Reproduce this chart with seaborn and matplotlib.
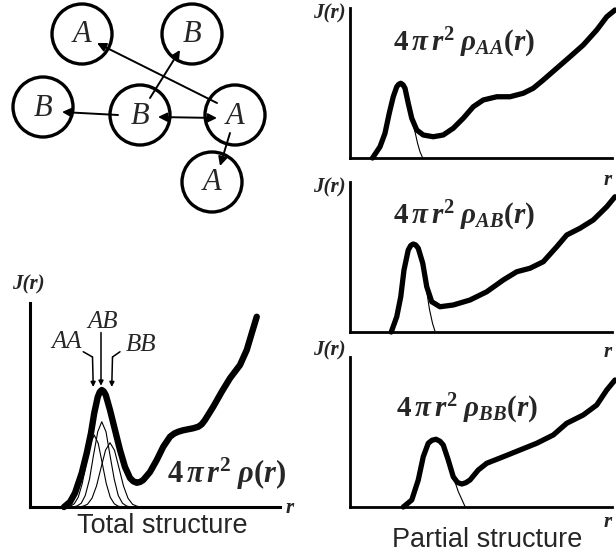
import matplotlib
matplotlib.use("Agg")
import matplotlib.pyplot as plt
from matplotlib.patches import Circle
import seaborn as sns

# ---------------- total structure: J(r) and its three partial peaks ----------------
total_r = [1.36, 1.60, 1.80, 2.07, 2.27, 2.44, 2.57, 2.71, 2.79, 2.87, 2.95, 3.03, 3.20,
           3.40, 3.60, 3.80, 4.00, 4.13, 4.27, 4.40, 4.53, 4.80, 5.07, 5.33, 5.60, 5.77,
           5.93, 6.13, 6.33, 6.53, 6.73, 6.87, 7.00, 7.33, 7.67, 8.00, 8.40, 8.67, 8.87, 9.07]
total_J = [0.00, 0.20, 0.56, 1.36, 2.16, 2.96, 3.76, 4.40, 4.60, 4.68, 4.62, 4.48, 3.88,
           3.08, 2.28, 1.60, 1.16, 1.03, 0.97, 1.00, 1.08, 1.40, 1.88, 2.41, 2.81, 2.94,
           3.01, 3.07, 3.11, 3.15, 3.21, 3.31, 3.48, 4.01, 4.61, 5.15, 5.68, 6.28, 6.95, 7.61]

aa_r = [1.45, 1.61, 1.77, 1.93, 2.09, 2.25, 2.41, 2.57, 2.73, 2.89, 3.05, 3.21, 3.37, 3.53, 3.69]
aa_J = [0.00, 0.03, 0.13, 0.39, 0.94, 1.75, 2.54, 2.88, 2.54, 1.75, 0.94, 0.39, 0.13, 0.03, 0.00]
ab_r = [1.72, 1.88, 2.05, 2.21, 2.38, 2.54, 2.71, 2.87, 3.04, 3.20, 3.37, 3.53, 3.70, 3.86, 4.03]
ab_J = [0.00, 0.04, 0.15, 0.46, 1.11, 2.07, 3.01, 3.41, 3.01, 2.07, 1.11, 0.46, 0.15, 0.04, 0.00]
bb_r = [1.94, 2.12, 2.30, 2.48, 2.66, 2.84, 3.02, 3.20, 3.38, 3.56, 3.74, 3.92, 4.10, 4.28, 4.46]
bb_J = [0.00, 0.03, 0.11, 0.35, 0.84, 1.56, 2.27, 2.57, 2.27, 1.56, 0.84, 0.35, 0.11, 0.03, 0.00]

# ---------------- partial structures ----------------
paa_r = [0.90, 1.20, 1.40, 1.57, 1.73, 1.87, 1.95, 2.03, 2.12, 2.20, 2.33, 2.47, 2.67, 2.93,
         3.33, 3.73, 4.13, 4.53, 4.93, 5.33, 5.87, 6.40, 6.93, 7.33, 7.73, 8.27, 8.80, 9.33,
         9.87, 10.27, 10.60]
paa_J = [0.00, 0.45, 0.99, 1.79, 2.45, 2.85, 2.95, 2.99, 2.93, 2.79, 2.19, 1.59, 1.12, 0.92,
         0.85, 0.92, 1.19, 1.59, 2.05, 2.32, 2.45, 2.45, 2.59, 2.79, 3.12, 3.59, 4.05, 4.52,
         5.12, 5.65, 5.92]
paa_peak_r = [0.90, 1.20, 1.40, 1.57, 1.73, 1.87, 2.03, 2.20, 2.33, 2.47, 2.60, 2.70, 2.80, 2.90]
paa_peak_J = [0.00, 0.45, 0.99, 1.79, 2.45, 2.85, 2.99, 2.79, 2.19, 1.59, 1.05, 0.60, 0.25, 0.02]

pab_r = [1.65, 1.87, 2.03, 2.16, 2.33, 2.43, 2.53, 2.63, 2.73, 2.91, 3.07, 3.27, 3.60, 4.13,
         4.80, 5.47, 6.13, 6.67, 7.20, 7.73, 8.27, 8.67, 9.20, 9.73, 10.27, 10.60]
pab_J = [0.00, 0.61, 1.41, 2.48, 3.28, 3.46, 3.52, 3.48, 3.35, 2.75, 1.81, 1.21, 1.01, 1.08,
         1.28, 1.61, 2.08, 2.41, 2.55, 2.81, 3.41, 3.88, 4.15, 4.48, 5.01, 5.41]
pab_peak_r = [1.65, 1.87, 2.03, 2.16, 2.33, 2.53, 2.73, 2.91, 3.05, 3.18, 3.30, 3.40]
pab_peak_J = [0.00, 0.61, 1.41, 2.48, 3.28, 3.52, 3.35, 2.75, 1.75, 0.90, 0.35, 0.03]

pbb_r = [2.13, 2.47, 2.73, 2.93, 3.13, 3.28, 3.44, 3.60, 3.73, 3.93, 4.13, 4.30, 4.47, 4.63,
         4.80, 5.13, 5.47, 6.13, 6.80, 7.47, 8.13, 8.67, 9.33, 9.87, 10.27, 10.60]
pbb_J = [0.00, 0.28, 1.08, 2.01, 2.55, 2.67, 2.71, 2.63, 2.48, 1.88, 1.21, 0.98, 0.92, 0.97,
         1.08, 1.48, 1.75, 2.01, 2.28, 2.55, 2.88, 3.35, 3.68, 4.08, 4.68, 5.08]
pbb_peak_r = [2.13, 2.47, 2.73, 2.93, 3.13, 3.44, 3.73, 3.93, 4.13, 4.33, 4.60]
pbb_peak_J = [0.00, 0.28, 1.08, 2.01, 2.55, 2.71, 2.48, 1.88, 1.21, 0.62, 0.02]

partial_labels = [r"$4\,\pi\, r^2\;\rho_{AA}(r)$",
                  r"$4\,\pi\, r^2\;\rho_{AB}(r)$",
                  r"$4\,\pi\, r^2\;\rho_{BB}(r)$"]

# ---------------- atom cluster sketch ----------------
node_labels = ["A", "B", "B", "B", "A", "A"]
node_x = [82, 192, 43, 140, 235, 212]
node_y = [34, 34, 107, 115, 115, 182]
bond_tail = [(217, 103), (150, 98), (118, 115), (158, 117), (230, 133)]
bond_head = [(97, 43), (180, 50), (62, 112), (217, 118), (220, 166)]
bond_style = ["-|>", "-|>", "-|>", "<|-|>", "-|>"]

sns.set_style("white")
plt.rcParams["mathtext.fontset"] = "custom"
plt.rcParams["mathtext.rm"] = "Liberation Serif:bold"
plt.rcParams["mathtext.it"] = "Liberation Serif:italic:bold"
plt.rcParams["mathtext.bf"] = "Liberation Serif:bold"

W, H = 616, 557
fig = plt.figure(figsize=(W / 100, H / 100), dpi=100)


def px_axes(x0, y0, x1, y1):
    """Axes whose frame spans the pixel box (x0, y0)-(x1, y1), y downward."""
    return fig.add_axes([x0 / W, 1 - y1 / H, (x1 - x0) / W, (y1 - y0) / H])


def style_axes(ax, lw):
    for s in ("top", "right"):
        ax.spines[s].set_visible(False)
    for s in ("left", "bottom"):
        ax.spines[s].set_linewidth(lw)
        ax.spines[s].set_color("black")
    ax.set_xticks([])
    ax.set_yticks([])
    ax.set_xlabel("")
    ax.set_ylabel("")
    ax.patch.set_alpha(0)


def curve(ax, r, J, lw):
    sns.lineplot(x=r, y=J, ax=ax, color="black", lw=lw, sort=False, estimator=None,
                 clip_on=False, solid_joinstyle="round", solid_capstyle="round")


# total structure panel
axT = px_axes(30, 303, 280, 507)
for r, J in ((aa_r, aa_J), (ab_r, ab_J), (bb_r, bb_J)):
    curve(axT, r, J, 0.8)
curve(axT, total_r, total_J, 4.6)
axT.set_xlim(0, 10)
axT.set_ylim(0, 8.16)
style_axes(axT, 2.2)

# labels and arrows for the three first-neighbour peaks
serif_it = dict(family="Liberation Serif", style="italic", fontsize=18)
arrow_kw = dict(arrowstyle="-|>", mutation_scale=7, lw=1.1, color="black",
                shrinkA=0, shrinkB=0)
axT.text(1.47, 6.62, "AA", ha="center", va="center", **serif_it)
axT.text(2.90, 7.40, "AB", ha="center", va="center", **serif_it)
axT.text(4.44, 6.48, "BB", ha="center", va="center", **serif_it)
axT.plot([2.13, 2.50], [6.21, 6.0], color="black", lw=1.1, clip_on=False)
axT.plot([3.60, 3.30], [6.21, 6.0], color="black", lw=1.1, clip_on=False)
axT.annotate("", xy=(2.53, 4.80), xytext=(2.50, 6.0), arrowprops=arrow_kw,
             annotation_clip=False)
axT.annotate("", xy=(2.84, 4.85), xytext=(2.84, 6.98), arrowprops=arrow_kw,
             annotation_clip=False)
axT.annotate("", xy=(3.27, 4.80), xytext=(3.30, 6.0), arrowprops=arrow_kw,
             annotation_clip=False)

# partial structure panels
panel_boxes = [(350, 8, 612, 158), (350, 182, 612, 332), (350, 357, 612, 507)]
partial_data = [(paa_r, paa_J, paa_peak_r, paa_peak_J),
                (pab_r, pab_J, pab_peak_r, pab_peak_J),
                (pbb_r, pbb_J, pbb_peak_r, pbb_peak_J)]
for box, (r, J, pr, pJ) in zip(panel_boxes, partial_data):
    ax = px_axes(*box)
    curve(ax, pr, pJ, 0.8)
    curve(ax, r, J, 3.8)
    ax.set_xlim(0, 10.48)
    ax.set_ylim(0, 6.0)
    style_axes(ax, 2.0)

# overlay in pixel units for the sketch and free text
ov = fig.add_axes([0, 0, 1, 1])
ov.set_xlim(0, W)
ov.set_ylim(H, 0)
ov.axis("off")

for lab, x, y in zip(node_labels, node_x, node_y):
    ov.add_patch(Circle((x, y), 30, fill=False, lw=2.4, ec="black"))
    ov.text(x, y + 1, lab, ha="center", va="center", family="Liberation Serif",
            style="italic", fontsize=22)
for t, h, st in zip(bond_tail, bond_head, bond_style):
    ov.annotate("", xy=h, xytext=t,
                arrowprops=dict(arrowstyle=st, mutation_scale=13, lw=1.4,
                                color="black", shrinkA=0, shrinkB=0))

jr_kw = dict(family="Liberation Serif", style="italic", weight="bold", fontsize=15,
             ha="center", va="center")
ov.text(28, 284, "J(r)", **jr_kw)
ov.text(329, 13, "J(r)", **jr_kw)
ov.text(329, 187, "J(r)", **jr_kw)
ov.text(329, 350, "J(r)", **jr_kw)

r_kw = dict(family="Liberation Serif", style="italic", weight="bold", fontsize=15,
            va="center")
ov.text(286, 508, "r", ha="left", **r_kw)
for y in (180, 352, 522):
    ov.text(604, y, "r", ha="left", **r_kw)

ov.text(227, 474, r"$4\,\pi\, r^2\;\rho(r)$", ha="center", va="center", fontsize=22)
for (x, y), lab in zip([(464, 43), (464, 216), (467, 409)], partial_labels):
    ov.text(x, y, lab, ha="center", va="center", fontsize=21)

ov.text(162, 533, "Total structure", ha="center", va="baseline",
        family="Liberation Sans", fontsize=19.5)
ov.text(487, 547, "Partial structure", ha="center", va="baseline",
        family="Liberation Sans", fontsize=19.5)

fig.savefig("out.png", dpi=100)
